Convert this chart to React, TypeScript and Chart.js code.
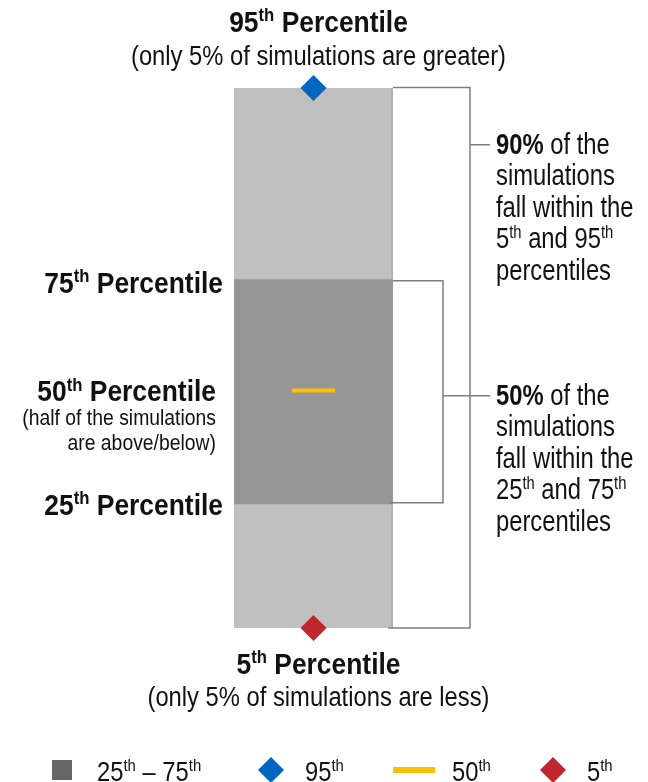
import React, { useEffect, useRef } from 'react';
import { Chart, registerables } from 'chart.js';

Chart.register(...registerables);

// ---------- data ----------
const categories = ['Simulations'];
const percentileNames = ['5th', '25th', '50th', '75th', '95th'];
// schematic positions of each percentile on the value axis
const percentileValues = [0, 23, 44, 64.5, 100];
const outerRange = [[0, 100]]; // 5th – 95th
const innerRange = [[23, 64.5]]; // 25th – 75th
const medianValues = [44];
const highValues = [100];
const lowValues = [0];
const legendLabels = ['25th – 75th', '95th', '50th', '5th'];

// ---------- styles ----------
const FONT = "'Liberation Sans', Arial, sans-serif";
const LIGHT = '#C0C0C0';
const DARK = '#979797';
const BLUE = '#0066C0';
const RED = '#C0262E';
const YELLOW = '#FFC000';
const BRACKET = '#7F7F7F';
const TEXT = '#111111';

type Seg = { t: string; b?: boolean; sup?: boolean };

function drawRich(
  ctx: CanvasRenderingContext2D,
  segs: Seg[],
  x: number,
  y: number,
  size: number,
  align: 'left' | 'right' | 'center',
  condense = 0.88
) {
  const fontOf = (s: Seg) =>
    `${s.b ? 'bold ' : ''}${s.sup ? Math.round(size * 0.62) : size}px ${FONT}`;
  const widths = segs.map((s) => {
    ctx.font = fontOf(s);
    return ctx.measureText(s.t).width * condense;
  });
  const total = widths.reduce((a, b) => a + b, 0);
  let cx = align === 'left' ? x : align === 'right' ? x - total : x - total / 2;
  segs.forEach((s, i) => {
    ctx.save();
    ctx.font = fontOf(s);
    ctx.textAlign = 'left';
    ctx.textBaseline = 'alphabetic';
    ctx.fillStyle = TEXT;
    ctx.translate(cx, s.sup ? y - size * 0.36 : y);
    ctx.scale(condense, 1);
    ctx.fillText(s.t, 0, 0);
    ctx.restore();
    cx += widths[i];
  });
}

function sup(n: string, bold = false): Seg[] {
  const m = n.match(/^(\d+)(\D+)$/);
  if (!m) return [{ t: n, b: bold }];
  return [
    { t: m[1], b: bold },
    { t: m[2], b: bold, sup: true },
  ];
}

const annotationPlugin = {
  id: 'diagramAnnotations',
  afterDraw(chart: any) {
    const ctx: CanvasRenderingContext2D = chart.ctx;
    const y = chart.scales.y;
    const area = chart.chartArea;
    const py = percentileValues.map((v) => y.getPixelForValue(v));
    const [y5, y25, y50, y75, y95] = py;
    const right = area.right;
    const cx = (area.left + area.right) / 2 + 5;

    ctx.save();
    // ----- brackets -----
    ctx.strokeStyle = BRACKET;
    ctx.lineWidth = 1.5;
    const outerX = right + 77;
    const innerX = right + 50;
    const tickEnd = right + 97;
    const tick90 = y95 + (y5 - y95) * 0.105;
    ctx.beginPath();
    ctx.moveTo(right, y95 - 0.5);
    ctx.lineTo(outerX, y95 - 0.5);
    ctx.lineTo(outerX, y5);
    ctx.lineTo(right - 5, y5);
    ctx.moveTo(outerX, tick90);
    ctx.lineTo(tickEnd, tick90);
    ctx.moveTo(right, y75 + 1);
    ctx.lineTo(innerX, y75 + 1);
    ctx.lineTo(innerX, y25 - 1);
    ctx.lineTo(right - 4, y25 - 1);
    const innerMid = (y75 + y25) / 2 + 4;
    ctx.moveTo(innerX, innerMid);
    ctx.lineTo(tickEnd, innerMid);
    ctx.stroke();

    // ----- top / bottom labels -----
    drawRich(ctx, [...sup(percentileNames[4], true), { t: ' Percentile', b: true }], cx, 32, 30, 'center');
    drawRich(ctx, [{ t: '(only 5% of simulations are greater)' }], cx, 65, 27, 'center');
    drawRich(ctx, [...sup(percentileNames[0], true), { t: ' Percentile', b: true }], cx, y5 + 46, 30, 'center');
    drawRich(ctx, [{ t: '(only 5% of simulations are less)' }], cx, y5 + 78, 27, 'center');

    // ----- left labels -----
    const lx = area.left - 11;
    drawRich(ctx, [...sup(percentileNames[3], true), { t: ' Percentile', b: true }], lx, y75 + 13, 30, 'right');
    drawRich(ctx, [...sup(percentileNames[2], true), { t: ' Percentile', b: true }], lx - 7, y50 + 11, 30, 'right');
    drawRich(ctx, [{ t: '(half of the simulations' }], lx - 7, y50 + 35, 22, 'right');
    drawRich(ctx, [{ t: 'are above/below)' }], lx - 7, y50 + 60, 22, 'right');
    drawRich(ctx, [...sup(percentileNames[1], true), { t: ' Percentile', b: true }], lx, y25 + 11, 30, 'right');

    // ----- right text -----
    const rx = right + 103;
    const lh = 31.5;
    const t90 = tick90 + 9;
    const block90: Seg[][] = [
      [{ t: '90%', b: true }, { t: ' of the' }],
      [{ t: 'simulations' }],
      [{ t: 'fall within the' }],
      [...sup('5th'), { t: ' and ' }, ...sup('95th')],
      [{ t: 'percentiles' }],
    ];
    block90.forEach((l, i) => drawRich(ctx, l, rx, t90 + i * lh, 29, 'left', 0.82));
    const t50 = innerMid + 9;
    const block50: Seg[][] = [
      [{ t: '50%', b: true }, { t: ' of the' }],
      [{ t: 'simulations' }],
      [{ t: 'fall within the' }],
      [...sup('25th'), { t: ' and ' }, ...sup('75th')],
      [{ t: 'percentiles' }],
    ];
    block50.forEach((l, i) => drawRich(ctx, l, rx, t50 + i * lh, 29, 'left', 0.82));

    // ----- legend -----
    const ly = 770;
    const lb = 781;
    ctx.fillStyle = '#666666';
    ctx.fillRect(52, ly - 10, 20, 20);
    drawRich(ctx, [...sup('25th'), { t: ' – ' }, ...sup('75th')], 97, lb, 27, 'left');

    const diamond = (x: number, c: string) => {
      ctx.fillStyle = c;
      ctx.beginPath();
      ctx.moveTo(x, ly - 13);
      ctx.lineTo(x + 13, ly);
      ctx.lineTo(x, ly + 13);
      ctx.lineTo(x - 13, ly);
      ctx.closePath();
      ctx.fill();
    };
    diamond(271, BLUE);
    drawRich(ctx, sup(legendLabels[1]), 305, lb, 27, 'left');
    ctx.fillStyle = YELLOW;
    ctx.fillRect(393, ly - 3, 42, 6);
    drawRich(ctx, sup(legendLabels[2]), 452, lb, 27, 'left');
    diamond(553, RED);
    drawRich(ctx, sup(legendLabels[3]), 587, lb, 27, 'left');
    ctx.restore();
  },
};

export default function App() {
  const ref = useRef<HTMLCanvasElement | null>(null);
  useEffect(() => {
    if (!ref.current) return;
    const chart = new Chart(ref.current, {
      type: 'bar',
      data: {
        labels: categories,
        datasets: [
          {
            type: 'line',
            label: legendLabels[1],
            data: highValues,
            showLine: false,
            pointStyle: 'rectRot',
            pointRadius: 13,
            pointBackgroundColor: BLUE,
            pointBorderWidth: 0,
            clip: false,
            order: 0,
          } as any,
          {
            type: 'line',
            label: legendLabels[3],
            data: lowValues,
            showLine: false,
            pointStyle: 'rectRot',
            pointRadius: 13,
            pointBackgroundColor: RED,
            pointBorderWidth: 0,
            clip: false,
            order: 0,
          } as any,
          {
            type: 'line',
            label: legendLabels[2],
            data: medianValues,
            showLine: false,
            pointStyle: 'line',
            pointRadius: 21.5,
            pointBorderColor: YELLOW,
            pointBorderWidth: 4,
            clip: false,
            order: 0,
          } as any,
          {
            type: 'bar',
            label: legendLabels[0],
            data: innerRange,
            backgroundColor: DARK,
            grouped: false,
            categoryPercentage: 1,
            barPercentage: 1,
            order: 1,
          } as any,
          {
            type: 'bar',
            label: '5th – 95th',
            data: outerRange,
            backgroundColor: LIGHT,
            borderColor: '#AFAFAF',
            borderWidth: { top: 0, bottom: 0, left: 0, right: 2 },
            borderSkipped: false,
            grouped: false,
            categoryPercentage: 1,
            barPercentage: 1,
            order: 2,
          } as any,
        ],
      },
      options: {
        responsive: false,
        animation: false,
        events: [],
        layout: { padding: { left: 234, right: 255, top: 88, bottom: 154 } },
        scales: {
          x: { display: false },
          y: { display: false, min: 0, max: 100 },
        },
        plugins: { legend: { display: false }, tooltip: { enabled: false } },
      },
      plugins: [annotationPlugin],
    });
    return () => chart.destroy();
  }, []);
  return (
    <div style={{ position: 'absolute', left: 0, top: 0, width: 648, height: 782, background: '#fff' }}>
      <canvas ref={ref} width={648} height={782} style={{ width: 648, height: 782, display: 'block' }} />
    </div>
  );
}
